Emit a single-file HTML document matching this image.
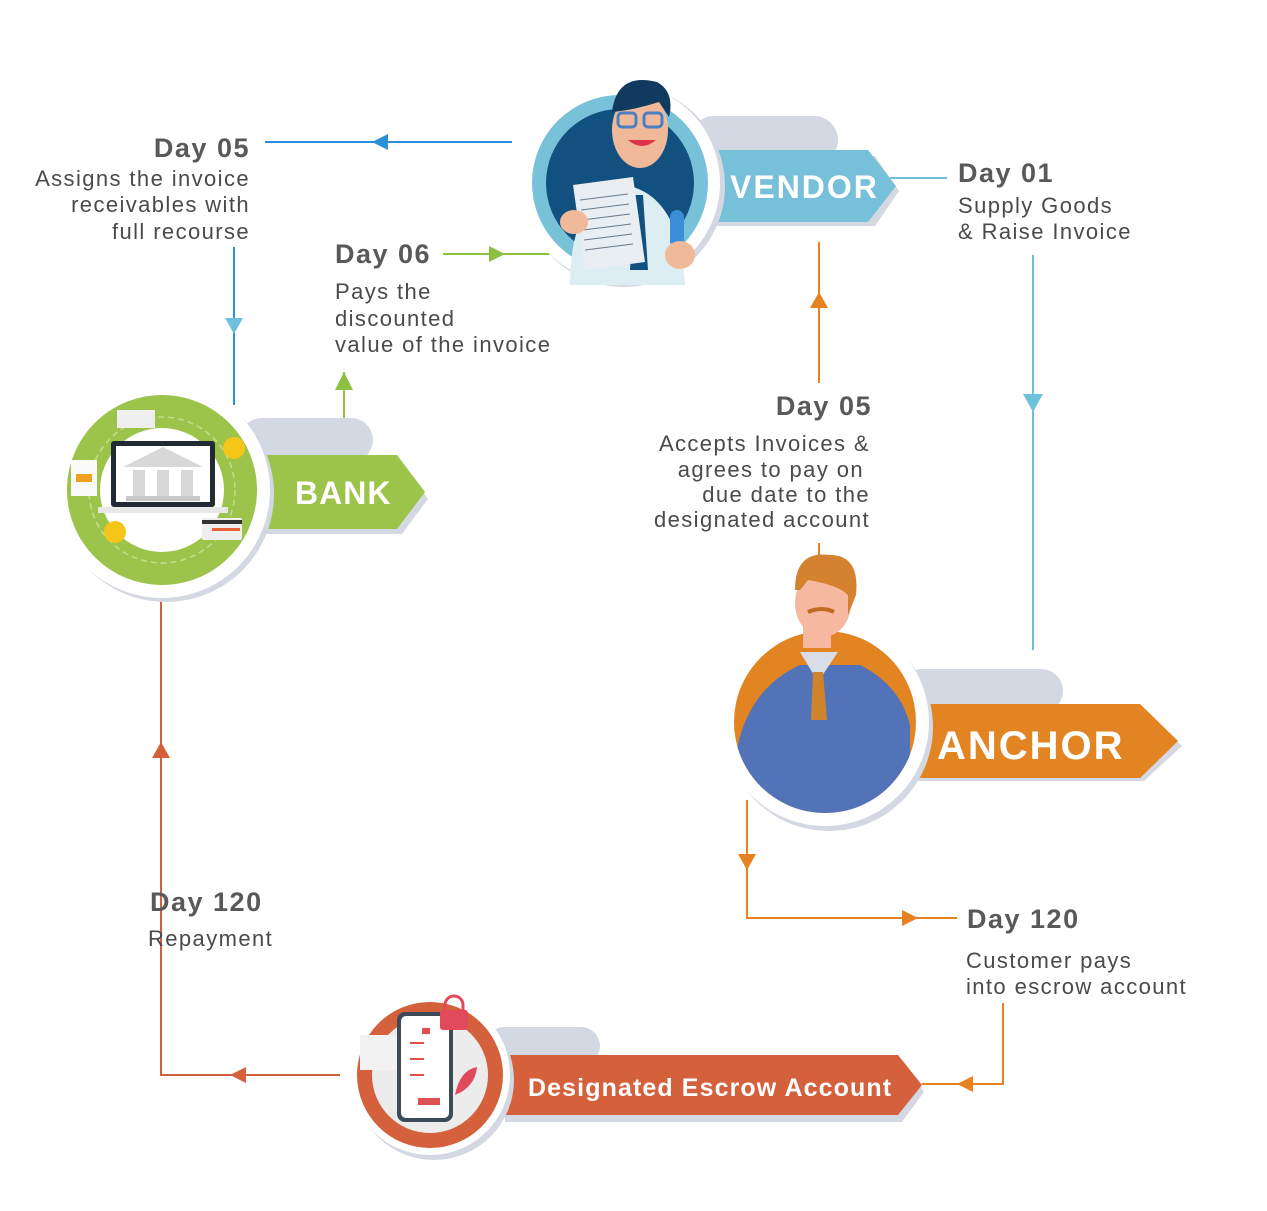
<!DOCTYPE html>
<html><head><meta charset="utf-8"><style>
html,body{margin:0;padding:0;background:#fff;}
svg{display:block;}
.h{font-family:"Liberation Sans",sans-serif;font-weight:bold;font-size:27px;fill:#595959;letter-spacing:1.5px;}
.b{font-family:"Liberation Sans",sans-serif;font-size:22px;fill:#4a4a4a;letter-spacing:1.4px;}
.w{font-family:"Liberation Sans",sans-serif;font-weight:bold;fill:#fff;}
</style></head><body>
<svg width="1267" height="1211" viewBox="0 0 1267 1211" xmlns="http://www.w3.org/2000/svg">
<defs><clipPath id="ac"><rect x="700" y="540" width="240" height="182"/><circle cx="825" cy="722" r="91"/></clipPath></defs>
<!-- connectors -->
<g fill="none" stroke-width="2">
<path d="M265 142H512" stroke="#2d8fd5"/>
<path d="M234 247V405" stroke="#2d8fd5"/>
<path d="M443 254H550" stroke="#8cc043"/>
<path d="M344 420V372" stroke="#8cc043"/>
<path d="M890 178H947" stroke="#6ec0dc"/>
<path d="M1033 255V650" stroke="#6ec0dc"/>
<path d="M819 242V383M819 543V565" stroke="#e6821f"/>
<path d="M747 800V918H957" stroke="#e6821f"/>
<path d="M1003 1003V1084H922" stroke="#e6821f"/>
<path d="M340 1075H161V600" stroke="#d4603c"/>
</g>
<g>
<path d="M372 142l16-8v16z" fill="#2d8fd5"/>
<path d="M225 318h18l-9 16z" fill="#6ec0dc"/>
<path d="M489 246l16 8-16 8z" fill="#8cc043"/>
<path d="M335 390l9-18 9 18z" fill="#8cc043"/>
<path d="M1023 394h20l-10 18z" fill="#6ec0dc"/>
<path d="M810 308l9-16 9 16z" fill="#e6821f"/>
<path d="M738 854h18l-9 16z" fill="#e6821f"/>
<path d="M902 910l16 8-16 8z" fill="#e6821f"/>
<path d="M973 1076l-16 8 16 8z" fill="#e6821f"/>
<path d="M246 1067l-16 8 16 8z" fill="#d4603c"/>
<path d="M152 758l9-16 9 16z" fill="#d4603c"/>
</g>

<!-- VENDOR -->
<rect x="690" y="116" width="148" height="48" rx="24" fill="#d4d8e2"/>
<path d="M715 156H875l24 35-24 35H715z" fill="#d4d8e2"/>
<path d="M715 150H868l28 36-28 36H715z" fill="#76c0d9"/>
<text x="730" y="198" class="w" font-size="32" letter-spacing="2">VENDOR</text>
<circle cx="624" cy="186" r="101" fill="#d4d8e2"/>
<circle cx="620" cy="183" r="100" fill="#fff"/>
<circle cx="620" cy="183" r="88" fill="#77c1d9"/>
<circle cx="620" cy="183" r="74" fill="#11507f"/>
<path d="M570 285q0-90 55-100q55 10 60 100z" fill="#dceef2"/>
<path d="M635 195l8 0 5 75h-18z" fill="#12507f"/>
<ellipse cx="640" cy="130" rx="28" ry="38" fill="#f0b99a"/>
<path d="M612 112q5-40 45-30q18 10 12 35l-10-15q-25 8-47 10z" fill="#123a5e"/>
<rect x="618" y="113" width="18" height="14" rx="4" fill="none" stroke="#4c7fbf" stroke-width="3"/>
<rect x="644" y="113" width="18" height="14" rx="4" fill="none" stroke="#4c7fbf" stroke-width="3"/>
<path d="M628 140q14 12 28 0z" fill="#d9364a"/>
<path d="M573 185l60-8 12 85-60 8z" fill="#e8eef2"/>
<g stroke="#6a7a8a" stroke-width="1"><path d="M580 200l48-6M581 210l48-6M582 220l48-6M583 230l48-6M584 240l48-6M585 250l48-6"/></g>
<rect x="670" y="210" width="14" height="38" rx="7" fill="#3b8fd6"/>
<ellipse cx="680" cy="255" rx="15" ry="14" fill="#f0b99a"/>
<ellipse cx="574" cy="222" rx="14" ry="12" fill="#f0b99a"/>

<!-- BANK -->
<rect x="240" y="418" width="133" height="44" rx="22" fill="#d4d8e2"/>
<path d="M262 462H402l26 37-26 35H262z" fill="#d4d8e2"/>
<path d="M262 455H397l28 37-28 37H262z" fill="#9cc44a"/>
<text x="295" y="504" class="w" font-size="32" letter-spacing="1">BANK</text>
<circle cx="166" cy="494" r="108" fill="#d4d8e2"/>
<circle cx="162" cy="490" r="108" fill="#fff"/>
<circle cx="162" cy="490" r="95" fill="#9cc44a"/>
<circle cx="162" cy="490" r="73" fill="none" stroke="#c3dd8f" stroke-width="1.5" stroke-dasharray="6 4"/>
<circle cx="162" cy="490" r="62" fill="#fff"/>
<rect x="111" y="441" width="104" height="66" rx="3" fill="#222b33"/>
<rect x="116" y="446" width="94" height="56" fill="#fff"/>
<rect x="98" y="507" width="130" height="6" fill="#e8e8e8"/>
<path d="M123 467l40-20 40 20z" fill="#d8d8d8"/>
<rect x="133" y="470" width="12" height="26" fill="#d8d8d8"/><rect x="157" y="470" width="12" height="26" fill="#d8d8d8"/><rect x="181" y="470" width="12" height="26" fill="#d8d8d8"/>
<rect x="126" y="496" width="74" height="5" fill="#c8c8c8"/>
<rect x="117" y="410" width="38" height="18" fill="#eee"/>
<circle cx="234" cy="448" r="11" fill="#f5c518"/>
<circle cx="115" cy="532" r="11" fill="#f5c518"/>
<rect x="202" y="518" width="40" height="22" rx="2" fill="#eee"/><rect x="202" y="520" width="40" height="4" fill="#333"/><rect x="212" y="528" width="28" height="3" fill="#e8623a"/>
<rect x="71" y="460" width="26" height="36" fill="#fafafa"/><rect x="76" y="474" width="16" height="8" fill="#f0a020"/>

<!-- ANCHOR -->
<rect x="900" y="669" width="163" height="44" rx="22" fill="#d4d8e2"/>
<path d="M915 711H1144l38 35-38 35H915z" fill="#d4d8e2"/>
<path d="M915 704H1140l38 37-38 37H915z" fill="#e38422"/>
<text x="937" y="759" class="w" font-size="40" letter-spacing="2">ANCHOR</text>
<circle cx="829" cy="727" r="104" fill="#d4d8e2"/>
<circle cx="825" cy="722" r="104" fill="#fff"/>
<circle cx="825" cy="722" r="91" fill="#e38422"/>
<g clip-path="url(#ac)">
<path d="M735 760q10-70 65-95h60q40 20 50 60l0 70q-40 40-120 35l-55-30z" fill="#5273b8"/>
<path d="M800 652l18 30 20-30z" fill="#d8dde8"/>
<path d="M813 672h10l4 48h-16z" fill="#cf842c"/>
</g>
<rect x="803" y="618" width="28" height="30" fill="#f6b8a0"/>
<ellipse cx="823" cy="603" rx="28" ry="34" fill="#f6b8a0"/>
<path d="M795 590q0-40 35-35q30 0 26 40l-8 20 0-20q-10-10-40-15l-8 10z" fill="#d5822e"/>
<path d="M808 612q14-6 26 0" stroke="#c06a22" stroke-width="4" fill="none"/>

<!-- ESCROW -->
<rect x="485" y="1027" width="115" height="38" rx="19" fill="#d4d8e2"/>
<path d="M505 1062H902l22 30-22 30H505z" fill="#d4d8e2"/>
<path d="M505 1055H898l24 30-24 30H505z" fill="#d4603c"/>
<text x="528" y="1096" class="w" font-size="25" letter-spacing="1.1">Designated Escrow Account</text>
<circle cx="434" cy="1080" r="80" fill="#d4d8e2"/>
<circle cx="430" cy="1075" r="80" fill="#fff"/>
<circle cx="430" cy="1075" r="73" fill="#d4603c"/>
<circle cx="430" cy="1075" r="58" fill="#ececec"/>
<rect x="360" y="1035" width="45" height="35" fill="#f2f2f2"/>
<rect x="397" y="1012" width="56" height="110" rx="8" fill="#3d4a58"/>
<rect x="401" y="1016" width="48" height="102" rx="5" fill="#fff"/>
<g fill="#e05050"><rect x="422" y="1028" width="8" height="6"/><rect x="410" y="1042" width="14" height="2"/><rect x="410" y="1058" width="14" height="2"/><rect x="410" y="1074" width="14" height="2"/><rect x="418" y="1098" width="22" height="7"/></g>
<path d="M445 1005a9 9 0 0 1 18 0v8h-18z" fill="none" stroke="#e04a5a" stroke-width="3"/>
<rect x="440" y="1010" width="28" height="20" rx="3" fill="#e04a5a"/>
<path d="M455 1095q5-25 22-28q-2 20-22 28z" fill="#e04a5a"/>

<!-- text -->
<text class="h" x="250" y="157" text-anchor="end">Day 05</text>
<text class="b" text-anchor="end"><tspan x="250" y="186">Assigns the invoice</tspan><tspan x="250" y="212">receivables with</tspan><tspan x="250" y="239">full recourse</tspan></text>
<text class="h" x="335" y="263">Day 06</text>
<text class="b"><tspan x="335" y="299">Pays the</tspan><tspan x="335" y="326">discounted</tspan><tspan x="335" y="352">value of the invoice</tspan></text>
<text class="h" x="958" y="182">Day 01</text>
<text class="b"><tspan x="958" y="213">Supply Goods</tspan><tspan x="958" y="239">&amp; Raise Invoice</tspan></text>
<text class="h" x="872" y="415" text-anchor="end">Day 05</text>
<text class="b" text-anchor="end"><tspan x="870" y="451">Accepts Invoices &amp;</tspan><tspan x="864" y="477">agrees to pay on</tspan><tspan x="870" y="502">due date to the</tspan><tspan x="870" y="527">designated account</tspan></text>
<text class="h" x="150" y="911">Day 120</text>
<text class="b" x="148" y="946">Repayment</text>
<text class="h" x="967" y="928">Day 120</text>
<text class="b"><tspan x="966" y="968">Customer pays</tspan><tspan x="966" y="994">into escrow account</tspan></text>
</svg>
</body></html>
